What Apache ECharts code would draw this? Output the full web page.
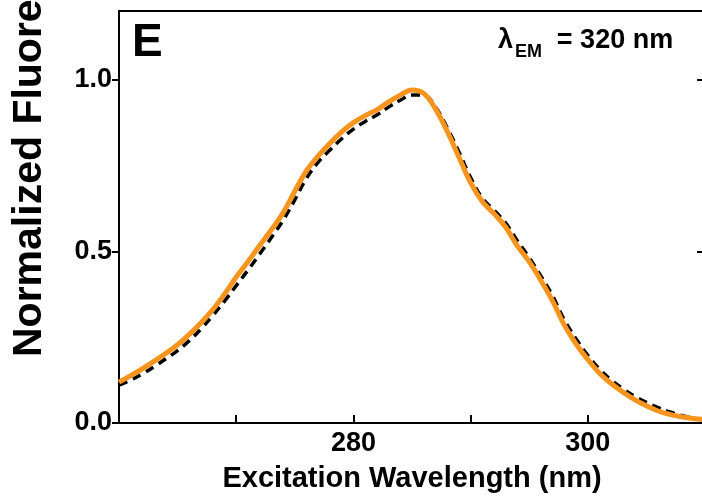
<!DOCTYPE html>
<html>
<head>
<meta charset="utf-8">
<script src="https://cdn.jsdelivr.net/npm/echarts@6/dist/echarts.min.js"></script>
<style>html,body{margin:0;padding:0;background:#fff;}#c{width:702px;height:498px;}</style>
</head>
<body>
<div id="c"></div>
<script>
// Excitation wavelengths (nm)
const wavelengths = [260,261,262,263,264,265,266,267,268,269,270,271,272,273,274,275,276,277,278,279,280,281,282,283,284,285,286,287,288,289,290,291,292,293,294,295,296,297,298,299,300,301,302,303,304,305,306,307,308,309,310];
// Orange solid curve
const orangeValues = [0.119,0.138,0.158,0.180,0.203,0.228,0.258,0.292,0.330,0.375,0.425,0.470,0.517,0.563,0.612,0.675,0.735,0.778,0.815,0.848,0.875,0.895,0.912,0.935,0.955,0.970,0.960,0.915,0.850,0.775,0.700,0.645,0.610,0.570,0.515,0.470,0.415,0.355,0.285,0.230,0.185,0.145,0.115,0.090,0.068,0.050,0.035,0.025,0.018,0.013,0.010];
// Black dashed curve
const blackValues = [0.110,0.125,0.143,0.164,0.187,0.211,0.240,0.274,0.313,0.355,0.400,0.445,0.492,0.540,0.590,0.650,0.713,0.760,0.795,0.828,0.856,0.878,0.897,0.920,0.940,0.955,0.955,0.920,0.860,0.790,0.715,0.655,0.620,0.582,0.530,0.482,0.428,0.370,0.300,0.245,0.197,0.157,0.125,0.100,0.078,0.060,0.045,0.032,0.022,0.014,0.008];
const xTicks = [260,270,280,290,300,310];
const xLabels = [280,300];
const yTicks = [0,0.5,1.0];

const FONT = '"Liberation Sans", Arial, sans-serif';
const chart = echarts.init(document.getElementById('c'));
chart.setOption({
  animation: false,
  backgroundColor: '#fff',
  grid: {left: 119, top: 11, width: 586, height: 412, show: true, borderColor: '#000', borderWidth: 2, outerBoundsMode: 'none'},
  xAxis: {
    type: 'value', min: 260, max: 310, interval: 10,
    name: 'Excitation Wavelength (nm)', nameLocation: 'middle', nameGap: 41,
    nameTextStyle: {fontFamily: FONT, fontWeight: 'bold', fontSize: 29, color: '#000'},
    axisLine: {show: true, lineStyle: {color: '#000', width: 2}},
    axisTick: {show: true, inside: true, length: 8, customValues: xTicks, lineStyle: {color: '#000', width: 2}},
    axisLabel: {show: true, customValues: xLabels, margin: 7, fontFamily: FONT, fontWeight: 'bold', fontSize: 27, color: '#000'},
    splitLine: {show: false}
  },
  yAxis: [{
    type: 'value', min: 0, max: 1.2, interval: 0.5,
    axisLine: {show: true, lineStyle: {color: '#000', width: 2}},
    axisTick: {show: true, inside: false, length: 7, customValues: yTicks, lineStyle: {color: '#000', width: 2}},
    axisLabel: {show: true, customValues: yTicks, margin: 7, fontFamily: FONT, fontWeight: 'bold', fontSize: 27, color: '#000',
      formatter: v => v.toFixed(1)},
    splitLine: {show: false}
  }, {
    type: 'value', min: 0, max: 1.2, interval: 0.5, position: 'right',
    axisLine: {show: true, lineStyle: {color: '#000', width: 2}},
    axisTick: {show: true, inside: true, length: 8, customValues: yTicks, lineStyle: {color: '#000', width: 2}},
    axisLabel: {show: false},
    splitLine: {show: false}
  }],
  series: [{
    type: 'line', smooth: 0.4, showSymbol: false, z: 2,
    data: wavelengths.map((w, i) => [w, blackValues[i]]),
    lineStyle: {color: '#000', width: 3.5, type: [9, 6]}
  }, {
    type: 'line', smooth: 0.4, showSymbol: false, z: 3,
    data: wavelengths.map((w, i) => [w, orangeValues[i]]),
    lineStyle: {color: '#F7941D', width: 5}
  }],
  graphic: [
    {type: 'text', x: 30, y: 357, rotation: Math.PI / 2, style: {text: 'Normalized Fluorescence', font: 'bold 41px ' + FONT, fill: '#000', align: 'left', verticalAlign: 'middle'}},
    {type: 'text', x: 132, y: 43, style: {text: 'E', font: 'bold 46px ' + FONT, fill: '#000', align: 'left', verticalAlign: 'middle'}},
    {type: 'text', x: 498, y: 41, style: {text: 'λ', font: 'bold 27px ' + FONT, fill: '#000', align: 'left', verticalAlign: 'middle'}},
    {type: 'text', x: 515, y: 52, style: {text: 'EM', font: 'bold 18px ' + FONT, fill: '#000', align: 'left', verticalAlign: 'middle'}},
    {type: 'text', x: 615, y: 41, style: {text: '= 320 nm', font: 'bold 27px ' + FONT, fill: '#000', align: 'center', verticalAlign: 'middle'}}
  ]
});
</script>
</body>
</html>
